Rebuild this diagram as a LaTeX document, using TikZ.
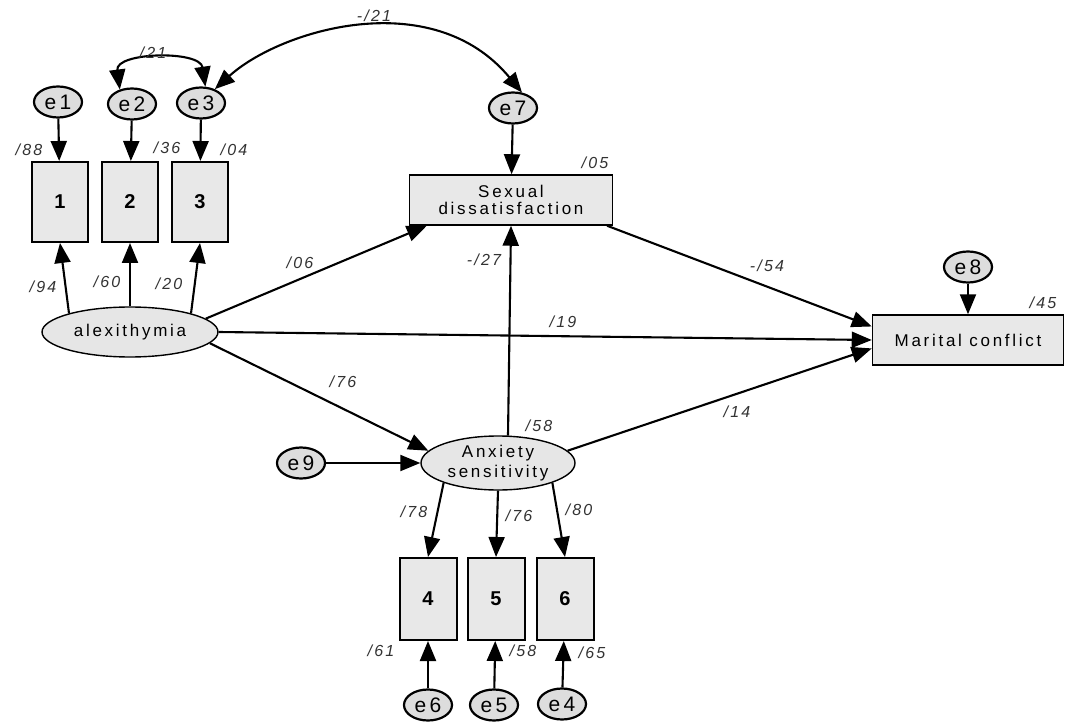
\documentclass[tikz,border=0pt]{standalone}
\usepackage{fontspec}
\setmainfont{Liberation Sans}
\newfontfamily\spfont{Liberation Sans}[LetterSpace=16]
\newfontfamily\lbfont{Liberation Sans}[LetterSpace=14]
\usetikzlibrary{shapes.geometric,arrows.meta}
\definecolor{boxfill}{HTML}{E8E8E8}
\definecolor{latfill}{HTML}{E6E6E6}
\definecolor{errfill}{HTML}{DDDDDD}
\definecolor{lblcol}{HTML}{333333}
\begin{document}
\begin{tikzpicture}[x=1pt,y=-1pt,
  errc/.style={ellipse,draw,line width=2.2pt,fill=errfill,minimum width=48,minimum height=31,inner sep=0pt,font=\spfont\fontsize{21}{22}\selectfont},
  obs/.style={rectangle,draw,line width=2pt,fill=boxfill,minimum width=56,minimum height=80,inner sep=0pt,font=\bfseries\fontsize{20}{22}\selectfont},
  lat/.style={ellipse,draw,line width=1.4pt,fill=latfill,inner sep=0pt,align=center,font=\spfont\fontsize{17}{20}\selectfont},
  endo/.style={rectangle,draw,line width=1.5pt,fill=boxfill,inner sep=0pt,align=center,font=\spfont\fontsize{17}{17}\selectfont},
  lbl/.style={inner sep=0pt,text=lblcol,font=\lbfont\itshape\fontsize{16}{16}\selectfont},
  arr/.style={-{Triangle[length=20pt,width=16pt]},line width=2.1pt},
  dbl/.style={{Triangle[length=20pt,width=16pt]}-{Triangle[length=20pt,width=16pt]},line width=2.1pt}]
\useasboundingbox (0,0) rectangle (1066,722);
\fill[white] (0,0) rectangle (1066,722);

% error terms
\node[errc] (e1) at (58,102) {e1};
\node[errc] (e2) at (132,104) {e2};
\node[errc] (e3) at (201,103) {e3};
\node[errc] (e7) at (513,108) {e7};
\node[errc] (e8) at (968,267) {e8};
\node[errc] (e9) at (301,463) {e9};
\node[errc] (e6) at (428,705) {e6};
\node[errc] (e5) at (494,705) {e5};
\node[errc] (e4) at (562,704) {e4};

% observed indicators
\node[obs] (b1) at (60,202) {1};
\node[obs] (b2) at (130,202) {2};
\node[obs] (b3) at (200,202) {3};
\node[obs,minimum width=57,minimum height=82] (b4) at (428,599) {4};
\node[obs,minimum width=57,minimum height=82] (b5) at (496,599) {5};
\node[obs,minimum width=57,minimum height=82] (b6) at (565,599) {6};

% latent / endogenous
\node[lat,minimum width=176,minimum height=50] (alex) at (130,332) {alexithymia};
\node[lat,minimum width=154,minimum height=54] (anx) at (498,463) {Anxiety\\sensitivity};
\node[endo,minimum width=203,minimum height=50] (sex) at (511,200) {Sexual\\dissatisfaction};
\node[endo,minimum width=191,minimum height=50] (mar) at (968,340) {Marital conflict};

% connectors
\draw[arr] (e1) -- (b1);
\draw[arr] (e2) -- (b2);
\draw[arr] (e3) -- (b3);
\draw[arr] (alex.163) -- (b1.south);
\draw[arr] (alex.north) -- (b2.south);
\draw[arr] (alex.17) -- (b3.south);
\draw[arr] (alex.10) -- (sex.-163);
\draw[arr] (alex.east) -- (mar.west);
\draw[arr] (alex.-8) -- (anx.170);
\draw[arr] (anx.70) -- (sex.south);
\draw[arr] (sex.-15) -- (mar.172);
\draw[arr] (anx.10) -- (mar.185);
\draw[arr] (e7) -- (sex);
\draw[arr] (e8) -- (mar);
\draw[arr] (e9) -- (anx);
\draw[arr] (anx.-160) -- (b4.north);
\draw[arr] (anx.south) -- (b5.north);
\draw[arr] (anx.-20) -- (b6.north);
\draw[arr] (e6) -- (b4);
\draw[arr] (e5) -- (b5);
\draw[arr] (e4) -- (b6);
\draw[dbl] (e2.130) .. controls (115,52) and (200,50) .. (e3.75);
\draw[dbl] (e3.45) .. controls (280,30) and (432,-16) .. (e7.60);

% labels
\node[lbl] (l21a) at (153,53) {/21};
\node[lbl] (l21b) at (374,16) {-/21};
\node[lbl] (l88) at (29,150) {/88};
\node[lbl] (l36) at (167,148) {/36};
\node[lbl] (l04) at (234,150) {/04};
\node[lbl] (l94) at (43,287) {/94};
\node[lbl] (l60) at (107,282) {/60};
\node[lbl] (l20) at (169,284) {/20};
\node[lbl] (l06) at (300,263) {/06};
\node[lbl] (l19) at (563,322) {/19};
\node[lbl] (l76a) at (343,382) {/76};
\node[lbl] (l05) at (595,163) {/05};
\node[lbl] (l27) at (484,260) {-/27};
\node[lbl] (l54) at (767,266) {-/54};
\node[lbl] (l45) at (1043,303) {/45};
\node[lbl] (l14) at (737,412) {/14};
\node[lbl] (l58a) at (539,426) {/58};
\node[lbl] (l78) at (414,512) {/78};
\node[lbl] (l76b) at (519,516) {/76};
\node[lbl] (l80) at (579,510) {/80};
\node[lbl] (l61) at (381,651) {/61};
\node[lbl] (l58b) at (523,651) {/58};
\node[lbl] (l65) at (592,653) {/65};
\end{tikzpicture}
\end{document}
